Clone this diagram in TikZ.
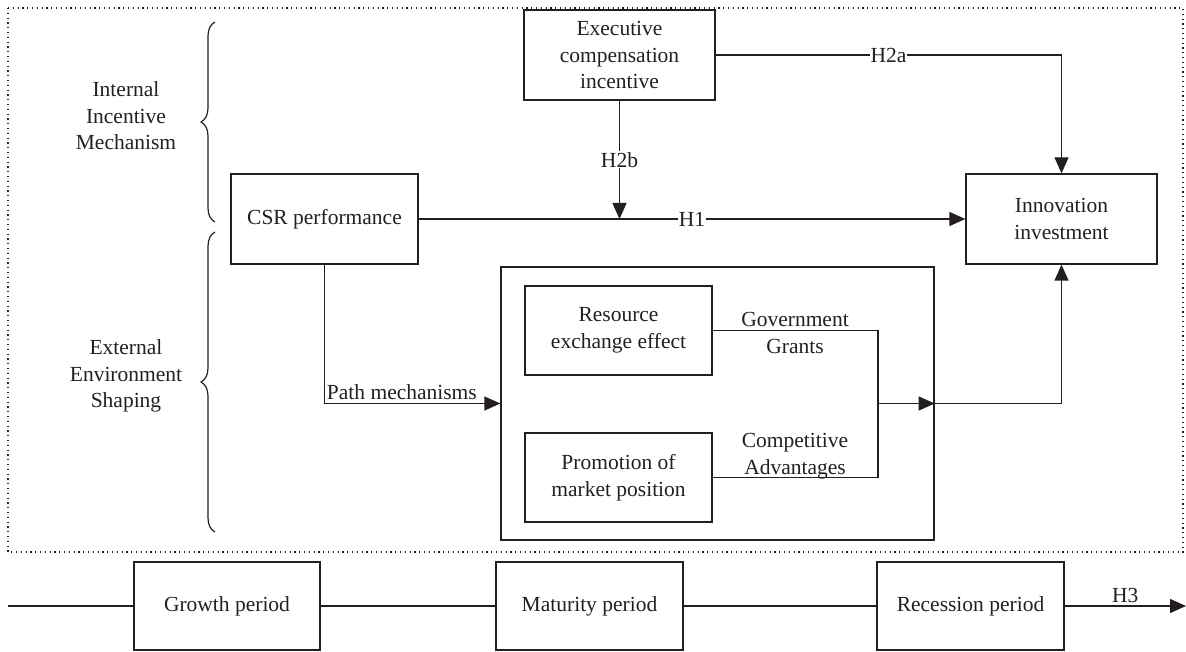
\documentclass[tikz,border=0pt]{standalone}
\usepackage{fontspec}
\setmainfont{Liberation Serif}
\usetikzlibrary{arrows.meta,decorations.pathreplacing,calc}
\definecolor{ink}{HTML}{231F20}
\begin{document}
\begin{tikzpicture}[x=1pt,y=-1pt,line width=1.3pt, draw=ink,
  every node/.style={font=\fontsize{21.5}{26.5}\selectfont, text=ink},
  box/.style={draw=ink, line width=1.3pt, minimum width=#1, align=center, inner sep=2pt},
  box/.default=187pt,
  arr/.style={-{Triangle[length=16pt,width=14pt]}},
  lbl/.style={fill=white, inner sep=1pt},
  brc/.style={decorate, decoration={brace, amplitude=14pt}, line width=1.2pt}]
\useasboundingbox (0,0) rectangle (1186,652);
% frame
\draw[line width=1.2pt, dash pattern=on 1.2pt off 3.6pt] (8,8) rectangle (1183,552);
% braces
\draw[brc] (215,222) -- (215,22);
\draw[brc] (215,532) -- (215,232);
\node[align=center] (iim) at (126,116) {Internal\\Incentive\\Mechanism};
\node[align=center] (ees) at (126,376) {External\\Environment\\Shaping};
% boxes
\node[box=187pt, minimum height=90pt] (csr) at (324.5,219) {CSR performance};
\node[box=191pt, minimum height=90pt] (exec) at (619.5,55) {Executive\\compensation\\incentive};
\node[box=191pt, minimum height=90pt] (innov) at (1061.5,219) {Innovation\\investment};
\node[box=433pt, minimum height=273pt] (big) at (717.5,403.5) {};
\node[box=187pt, minimum height=89pt] (res) at (618.5,330.5) {Resource\\exchange effect};
\node[box=187pt, minimum height=89pt] (prom) at (618.5,477.5) {Promotion of\\market position};
% connectors
\draw[arr] (csr.east) -- node[lbl] {H1} (innov.west);
\draw[arr] (exec.south) -- node[lbl] {H2b} (exec.south |- csr.east);
\draw[arr] (exec.east) -- node[lbl, pos=0.5] {H2a} (exec.east -| innov.north) -- (innov.north);
\draw[arr] (csr.south) |- node[pos=0.72, above, inner sep=3pt] {Path mechanisms} (big.west);
\coordinate (j) at (878,403.5);
\draw (res.east) -| (j);
\draw (prom.east) -| (j);
\draw[arr] (j) -- (big.east);
\draw[arr] (big.east) -| (innov.south);
\node[align=center] (gg) at (795,333) {Government\\Grants};
\node[align=center] (ca) at (795,456) {Competitive\\Advantages};
% bottom row
\node[box=186pt, minimum height=88pt] (growth) at (227,606) {Growth period};
\node[box=187pt, minimum height=88pt] (mat) at (589.5,606) {Maturity period};
\node[box=187pt, minimum height=88pt] (rec) at (970.5,606) {Recession period};
\coordinate (L) at (8,606);
\coordinate (R) at (1186,606);
\draw (L) -- (growth.west);
\draw (growth.east) -- (mat.west);
\draw (mat.east) -- (rec.west);
\draw[arr] (rec.east) -- node[above, inner sep=3pt] {H3} (R);
\end{tikzpicture}
\end{document}
